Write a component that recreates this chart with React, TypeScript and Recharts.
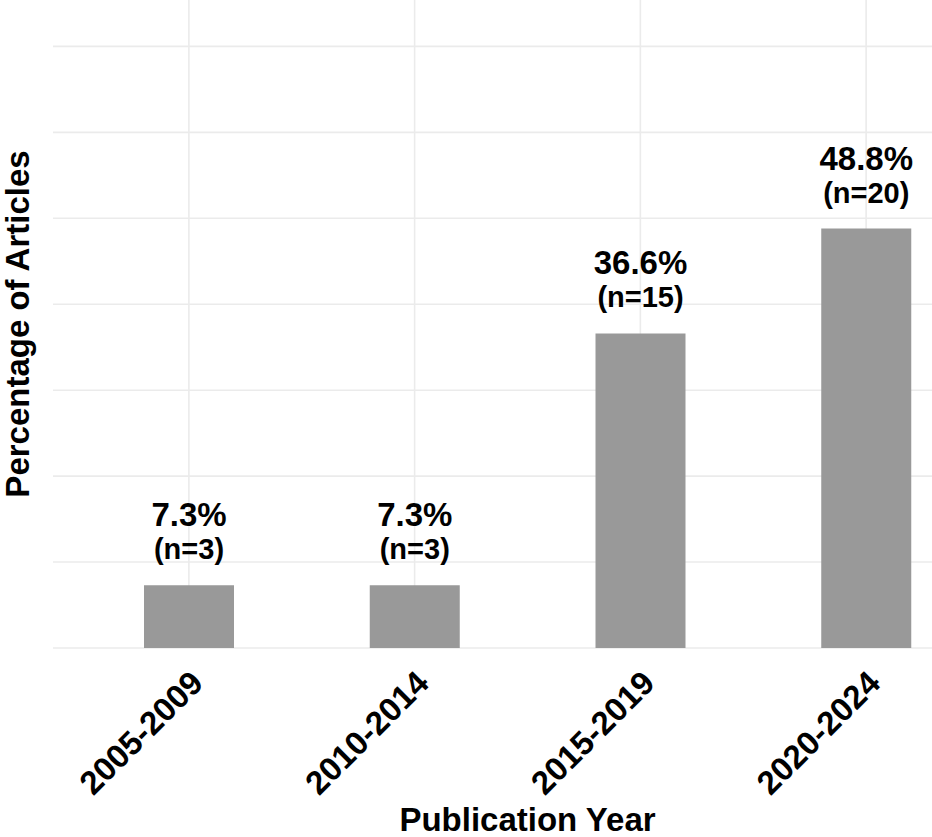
import { Bar, BarChart, CartesianGrid, LabelList, XAxis, YAxis } from "recharts";

const periods = ["2005-2009", "2010-2014", "2015-2019", "2020-2024"];
const percentages = [7.3, 7.3, 36.6, 48.8];
const counts = [3, 3, 15, 20];
const yTicks = [0, 10, 20, 30, 40, 50, 60, 70];

const FONT = '"Liberation Sans", Arial, Helvetica, sans-serif';

const data = periods.map((period, i) => ({
  period,
  pct: percentages[i],
  n: counts[i],
}));

function YearTick(props: any) {
  const { x, y, payload } = props;
  return (
    <text
      transform={`translate(${x + 16},${y + 37}) rotate(-45)`}
      textAnchor="end"
      fontFamily={FONT}
      fontWeight={700}
      fontSize={33}
      fill="#000"
    >
      {payload.value}
    </text>
  );
}

// y ticks are kept for the grid but not drawn
function NoTick() {
  return <g />;
}

function BarLabel(props: any) {
  const { x, y, width, index } = props;
  const cx = x + width / 2;
  return (
    <g fontFamily={FONT} fontWeight={700} fill="#000" textAnchor="middle">
      <text x={cx} y={y - 59} fontSize={33}>
        {percentages[index].toFixed(1)}%
      </text>
      <text x={cx} y={y - 26} fontSize={29}>
        (n={counts[index]})
      </text>
    </g>
  );
}

function XTitle(props: any) {
  const { viewBox } = props;
  return (
    <text
      x={viewBox.x + viewBox.width / 2}
      y={831}
      textAnchor="middle"
      fontFamily={FONT}
      fontWeight={700}
      fontSize={33}
      fill="#000"
    >
      Publication Year
    </text>
  );
}

function YTitle(props: any) {
  const { viewBox } = props;
  return (
    <text
      transform={`translate(29,${viewBox.y + viewBox.height / 2}) rotate(-90)`}
      textAnchor="middle"
      fontFamily={FONT}
      fontWeight={700}
      fontSize={33}
      fill="#000"
    >
      Percentage of Articles
    </text>
  );
}

export default function App() {
  return (
    <div
      style={{
        position: "absolute",
        left: 0,
        top: 0,
        width: 932,
        height: 837,
        overflow: "hidden",
        background: "#fff",
      }}
    >
      <BarChart
        width={1002}
        height={837}
        data={data}
        margin={{ top: 0, right: 0, bottom: 0, left: 0 }}
      >
        {/* syncWithTicks: no extra lines on the panel edges */}
        <CartesianGrid stroke="#ebebeb" strokeWidth={1.6} syncWithTicks />
        <XAxis
          dataKey="period"
          height={189}
          padding={{ left: 23, right: 23 }}
          axisLine={false}
          tickLine={false}
          tickSize={0}
          tickMargin={0}
          interval={0}
          tick={<YearTick />}
          label={<XTitle />}
        />
        <YAxis
          width={53}
          domain={[0, 75.4]}
          ticks={yTicks}
          interval={0}
          axisLine={false}
          tickLine={false}
          tick={<NoTick />}
          label={<YTitle />}
        />
        <Bar dataKey="pct" fill="#999999" barSize={90} isAnimationActive={false}>
          <LabelList dataKey="pct" content={<BarLabel />} />
        </Bar>
      </BarChart>
    </div>
  );
}
